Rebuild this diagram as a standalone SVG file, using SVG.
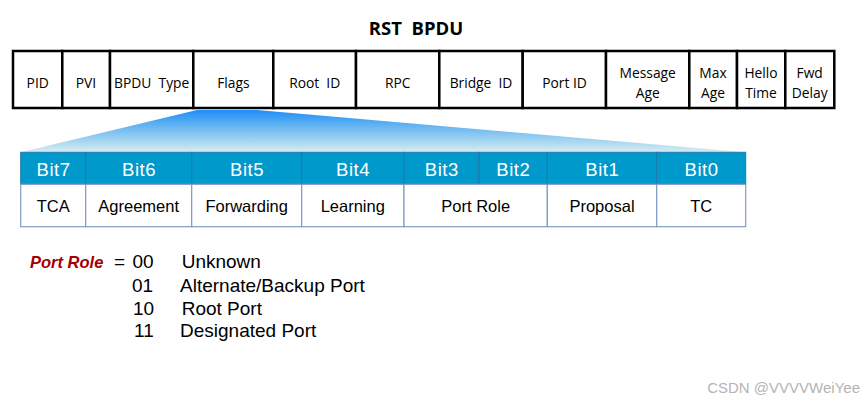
<svg xmlns="http://www.w3.org/2000/svg" width="864" height="404" viewBox="0 0 864 404">
<defs>
<linearGradient id="zoomGrad" x1="0" y1="0" x2="0" y2="1">
<stop offset="0" stop-color="#1e8ef8"/>
<stop offset="0.45" stop-color="#72bcf0"/>
<stop offset="1" stop-color="#d6eef0"/>
</linearGradient>
<style>
.cell{fill:#fff;stroke:#000;stroke-width:2.5}
.ft{font-family:"Open Sans","Noto Sans","DejaVu Sans",sans-serif;font-size:13.8px;fill:#000;text-anchor:middle}
.title{font-family:"Open Sans","Noto Sans",sans-serif;font-size:18.5px;font-weight:bold;fill:#000;text-anchor:middle}
.hd{fill:#0099cc;stroke:#1f78ad;stroke-width:1}
.bd{fill:#fff;stroke:#7f9cc6;stroke-width:1.2}
.ht{font-family:"Liberation Sans",Arial,sans-serif;font-size:18.5px;fill:#fff;text-anchor:middle;letter-spacing:0.5px}
.bt{font-family:"Liberation Sans",Arial,sans-serif;font-size:16.5px;fill:#000;text-anchor:middle}
.lg{font-family:"Liberation Sans",Arial,sans-serif;font-size:19px;fill:#000}
.pr{font-family:"Liberation Sans",Arial,sans-serif;font-size:16.5px;font-weight:bold;font-style:italic;fill:#a50000}
.wm{font-family:"Liberation Sans",Arial,sans-serif;font-size:15px;fill:#b4b4b4;text-anchor:end}
</style>
</defs>
<rect width="864" height="404" fill="#fff"/>

<text class="title" x="416" y="35" xml:space="preserve">RST  BPDU</text>

<g id="connectors">
<polygon points="197,110 257,110 745.7,152.3 20.7,152.3" fill="url(#zoomGrad)"/>
</g>

<g id="bpdu">
<g id="f-pid"><rect class="cell" x="13" y="51" width="49.3" height="57"/><text class="ft" x="37.7" y="88">PID</text></g>
<g id="f-pvi"><rect class="cell" x="62.3" y="51" width="47.7" height="57"/><text class="ft" x="86" y="88">PVI</text></g>
<g id="f-type"><rect class="cell" x="110" y="51" width="83.3" height="57"/><text class="ft" x="151.7" y="88" xml:space="preserve">BPDU  Type</text></g>
<g id="f-flags"><rect class="cell" x="193.3" y="51" width="80" height="57"/><text class="ft" x="233.3" y="88">Flags</text></g>
<g id="f-rootid"><rect class="cell" x="273.3" y="51" width="82.7" height="57"/><text class="ft" x="314.7" y="88" xml:space="preserve">Root  ID</text></g>
<g id="f-rpc"><rect class="cell" x="356" y="51" width="83.3" height="57"/><text class="ft" x="397.7" y="88">RPC</text></g>
<g id="f-bridgeid"><rect class="cell" x="439.3" y="51" width="83.4" height="57"/><text class="ft" x="481" y="88" xml:space="preserve">Bridge  ID</text></g>
<g id="f-portid"><rect class="cell" x="522.7" y="51" width="83.3" height="57"/><text class="ft" x="564.5" y="88">Port ID</text></g>
<g id="f-msgage"><rect class="cell" x="606" y="51" width="83.3" height="57"/><text class="ft" x="647.7" y="78">Message</text><text class="ft" x="647.7" y="98">Age</text></g>
<g id="f-maxage"><rect class="cell" x="689.3" y="51" width="47.7" height="57"/><text class="ft" x="713" y="78">Max</text><text class="ft" x="713" y="98">Age</text></g>
<g id="f-hello"><rect class="cell" x="737" y="51" width="48.3" height="57"/><text class="ft" x="761" y="78">Hello</text><text class="ft" x="761" y="98">Time</text></g>
<g id="f-fwd"><rect class="cell" x="785.3" y="51" width="49" height="57"/><text class="ft" x="809.7" y="78">Fwd</text><text class="ft" x="809.7" y="98">Delay</text></g>
</g>

<g id="flags">
<g id="bit7"><rect class="hd" x="20.7" y="152.3" width="65" height="32"/><text class="ht" x="53.5" y="175.5">Bit7</text>
<rect class="bd" x="20.7" y="184.3" width="65" height="42.4"/><text class="bt" x="53.2" y="212">TCA</text></g>
<g id="bit6"><rect class="hd" x="85.7" y="152.3" width="106" height="32"/><text class="ht" x="139" y="175.5">Bit6</text>
<rect class="bd" x="85.7" y="184.3" width="106" height="42.4"/><text class="bt" x="138.7" y="212">Agreement</text></g>
<g id="bit5"><rect class="hd" x="191.7" y="152.3" width="110" height="32"/><text class="ht" x="247" y="175.5">Bit5</text>
<rect class="bd" x="191.7" y="184.3" width="110" height="42.4"/><text class="bt" x="246.7" y="212">Forwarding</text></g>
<g id="bit4"><rect class="hd" x="301.7" y="152.3" width="102.3" height="32"/><text class="ht" x="353" y="175.5">Bit4</text>
<rect class="bd" x="301.7" y="184.3" width="102.3" height="42.4"/><text class="bt" x="352.8" y="212">Learning</text></g>
<g id="bit3-2"><rect class="hd" x="404" y="152.3" width="75" height="32"/><text class="ht" x="441.8" y="175.5">Bit3</text>
<rect class="hd" x="479" y="152.3" width="68.3" height="32"/><text class="ht" x="513.3" y="175.5">Bit2</text>
<rect class="bd" x="404" y="184.3" width="143.3" height="42.4"/><text class="bt" x="475.7" y="212">Port Role</text></g>
<g id="bit1"><rect class="hd" x="547.3" y="152.3" width="109.4" height="32"/><text class="ht" x="602.3" y="175.5">Bit1</text>
<rect class="bd" x="547.3" y="184.3" width="109.4" height="42.4"/><text class="bt" x="602" y="212">Proposal</text></g>
<g id="bit0"><rect class="hd" x="656.7" y="152.3" width="89" height="32"/><text class="ht" x="701.5" y="175.5">Bit0</text>
<rect class="bd" x="656.7" y="184.3" width="89" height="42.4"/><text class="bt" x="701.2" y="212">TC</text></g>
</g>

<g id="legend">
<text class="pr" x="30" y="268">Port Role</text>
<text class="lg" x="114" y="268">=</text>
<text class="lg" x="132.5" y="268">00</text><text class="lg" x="181.7" y="268">Unknown</text>
<text class="lg" x="132" y="291.5">01</text><text class="lg" x="180" y="291.5">Alternate/Backup Port</text>
<text class="lg" x="133" y="315">10</text><text class="lg" x="181.7" y="315">Root Port</text>
<text class="lg" x="134" y="337">11</text><text class="lg" x="180" y="337">Designated Port</text>
</g>

<text class="wm" x="860" y="393">CSDN @VVVVWeiYee</text>
</svg>
